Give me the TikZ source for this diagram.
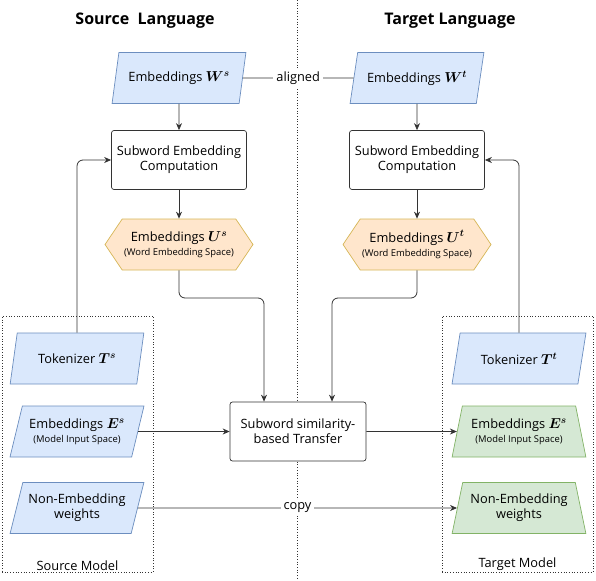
\documentclass[tikz,border=0pt]{standalone}
\usepackage{amsmath,bm}
\usepackage{fontspec}
\setmainfont{Open Sans}
\usetikzlibrary{shapes.geometric,shapes.symbols,arrows.meta}
\definecolor{bfill}{HTML}{DAE8FC}
\definecolor{bline}{HTML}{6C8EBF}
\definecolor{gfill}{HTML}{D5E8D4}
\definecolor{gline}{HTML}{82B366}
\definecolor{ofill}{HTML}{FFE6CC}
\definecolor{oline}{HTML}{D6B656}
\definecolor{ln}{HTML}{333333}
\newcommand{\smalltxt}{\fontsize{9.4}{11}\selectfont}
\newcommand{\mv}[2]{{\fontsize{14}{14}\selectfont$\bm{#1}^{\bm{#2}}$}}
\begin{document}
\begin{tikzpicture}[x=1pt,y=-1pt,
  base/.style={draw=ln, line width=0.7pt, font=\fontsize{12.8}{15}\selectfont, align=center, inner sep=1pt},
  procbox/.style={base, rectangle, rounded corners=2.5pt, minimum width=135pt, minimum height=59pt, fill=white},
  parabox/.style={base, trapezium, trapezium left angle=68.6, trapezium right angle=111.4, trapezium stretches=true, minimum width=134pt, minimum height=51pt, fill=bfill, draw=bline},
  trapbox/.style={base, trapezium, trapezium left angle=72.6, trapezium right angle=72.6, trapezium stretches=true, minimum width=134pt, minimum height=51pt, fill=gfill, draw=gline},
  hexbox/.style={base, signal, signal to=east and west, signal pointer angle=112, minimum width=148pt, minimum height=51pt, fill=ofill, draw=oline},
  modelbox/.style={draw=black!80, dotted, line width=0.7pt},
  conn/.style={draw=ln, line width=0.8pt},
  arr/.style={conn, -{Stealth[length=7pt,width=6pt]}},
  lbl/.style={fill=white, font=\fontsize{12.8}{15}\selectfont, inner sep=3pt},
  title/.style={font=\fontsize{16}{19}\selectfont\bfseries}
]
\useasboundingbox (0,0) rectangle (596,580);
% divider
\coordinate (dtop) at (297,0);
\coordinate (dbot) at (297,580);
\draw[modelbox] (dtop) -- (dbot);
% titles
\node[title] (tsrc) at (145,21) {Source\ \ Language};
\node[title] (ttgt) at (450,21) {Target Language};
% model containers
\node[modelbox, minimum width=151pt, minimum height=256pt, inner sep=0pt] (srcm) at (77.5,444) {};
\node[anchor=south, font=\fontsize{12.8}{15}\selectfont, inner sep=2pt] (srcml) at (srcm.south) {Source Model};
\node[modelbox, minimum width=151pt, minimum height=256pt, inner sep=0pt] (tgtm) at (517.5,444) {};
\node[anchor=south, font=\fontsize{12.8}{15}\selectfont, inner sep=2pt] (tgtml) at (tgtm.south) {Target Model};
% nodes
\node[parabox] (Ws) at (179,78) {Embeddings \mv{W}{s}};
\node[parabox] (Wt) at (417,78) {Embeddings \mv{W}{t}};
\node[procbox] (secs) at (179,160) {Subword Embedding\\Computation};
\node[procbox] (sect) at (417,160) {Subword Embedding\\Computation};
\node[hexbox] (Us) at (179,244.5) {Embeddings \mv{U}{s}\\[-1pt]{\smalltxt (Word Embedding Space)}};
\node[hexbox] (Ut) at (417,244.5) {Embeddings \mv{U}{t}\\[-1pt]{\smalltxt (Word Embedding Space)}};
\node[procbox, minimum width=136pt] (tr) at (298,431.5) {Subword similarity-\\based Transfer};
\node[parabox] (Ts) at (77,358.5) {Tokenizer \mv{T}{s}};
\node[parabox] (Es) at (77,431.5) {Embeddings \mv{E}{s}\\[-1pt]{\smalltxt (Model Input Space)}};
\node[parabox] (NEs) at (77,508) {Non-Embedding\\weights};
\node[parabox] (Tt) at (519,358.5) {Tokenizer \mv{T}{t}};
\node[trapbox] (Et) at (519,431.5) {Embeddings \mv{E}{s}\\[-1pt]{\smalltxt (Model Input Space)}};
\node[trapbox] (NEt) at (519,508) {Non-Embedding\\weights};
% connectors
\draw[arr] (Ws.south) -- (secs.north);
\draw[arr] (Wt.south) -- (sect.north);
\draw[arr] (secs.south) -- (Us.north);
\draw[arr] (sect.south) -- (Ut.north);
\draw[conn] (Ws.east) -- node[lbl] (al) {aligned} (Wt.west);
\coordinate (inL) at ([xshift=-34pt]tr.north);
\coordinate (inR) at ([xshift=34pt]tr.north);
\draw[arr, rounded corners=6pt] (Us.south) -- (Us.south |- 0,298) -| (inL);
\draw[arr, rounded corners=6pt] (Ut.south) -- (Ut.south |- 0,298) -| (inR);
\draw[arr, rounded corners=6pt] (Ts.north) |- (secs.west);
\draw[arr, rounded corners=6pt] (Tt.north) |- (sect.east);
\draw[arr] (Es.east) -- (tr.west);
\draw[arr] (tr.east) -- (Et.west);
\draw[arr] (NEs.east) -- node[lbl] (cp) {copy} (NEt.west);
\end{tikzpicture}
\end{document}
